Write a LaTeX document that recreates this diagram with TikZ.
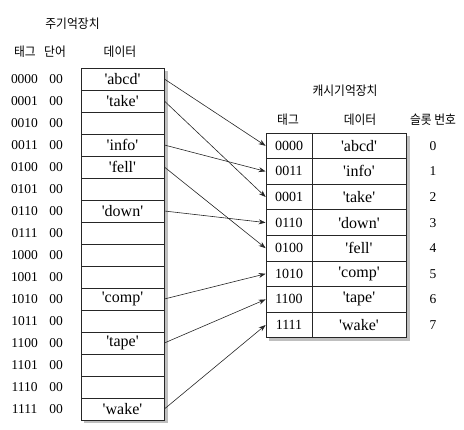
\documentclass[tikz,border=0pt]{standalone}
\usepackage{fontspec}
\setmainfont{Liberation Serif}
\newfontfamily\kor{Noto Sans CJK KR}[FakeStretch=0.92]
\usetikzlibrary{arrows.meta}
\newcommand{\q}[1]{\textquotesingle#1\textquotesingle}
\begin{document}
\begin{tikzpicture}[x=1pt,y=-1pt,
  mcell/.style={draw=black!85,fill=white,line width=0.7pt,minimum width=83pt,minimum height=22pt,inner sep=0pt,font=\fontsize{16}{16}\selectfont},
  ctag/.style={draw=black!85,fill=white,line width=0.7pt,minimum width=46pt,minimum height=25.6pt,inner sep=0pt,font=\fontsize{14}{14}\selectfont},
  cdat/.style={draw=black!85,fill=white,line width=0.7pt,minimum width=94pt,minimum height=25.6pt,inner sep=0pt,font=\fontsize{16}{16}\selectfont},
  lbl/.style={inner sep=0pt,font=\fontsize{13.5}{13.5}\selectfont},
  hdr/.style={inner sep=0pt,font=\kor\fontsize{12.8}{12.8}\selectfont},
  arr/.style={draw=black!85,line width=0.6pt,-{Stealth[length=7pt,width=5pt]}},
  shadow/.style={fill=black!25}]
\useasboundingbox (0,0) rectangle (464,430);
% headers main
\node[hdr] (hmain) at (72.5,24) {주기억장치};
\node[hdr] (ht) at (25,52) {태그};
\node[hdr] (hw) at (55,52) {단어};
\node[hdr] (hdata) at (120,52) {데이터};
% shadow main
\fill[shadow] (84,71) rectangle (167.5,423);
% main memory rows
\foreach \i/\t/\d in {0/0000/\q{abcd},1/0001/\q{take},2/0010/,3/0011/\q{info},4/0100/\q{fell},5/0101/,6/0110/\q{down},7/0111/,8/1000/,9/1001/,10/1010/\q{comp},11/1011/,12/1100/\q{tape},13/1101/,14/1110/,15/1111/\q{wake}}{
  \node[mcell] (m\i) at (122.5,{79+22*\i}) {\d};
  \node[lbl] (mt\i) at (24.5,{79+22*\i}) {\t};
  \node[lbl] (mw\i) at (56,{79+22*\i}) {00};
}
% headers cache
\node[hdr] (hcache) at (345,91) {캐시기억장치};
\node[hdr] (hct) at (288,120) {태그};
\node[hdr] (hcd) at (360,120) {데이터};
\node[hdr] (hcs) at (433,120) {슬롯 번호};
% shadow cache
\fill[shadow] (269,136) rectangle (409.5,341);
\foreach \i/\t/\d in {0/0000/\q{abcd},1/0011/\q{info},2/0001/\q{take},3/0110/\q{down},4/0100/\q{fell},5/1010/\q{comp},6/1100/\q{tape},7/1111/\q{wake}}{
  \node[ctag] (c\i) at (289,{145.8+25.6*\i}) {\t};
  \node[cdat] (d\i) at (359,{145.8+25.6*\i}) {\d};
  \node[lbl] (s\i) at (433,{145.8+25.6*\i}) {\i};
}
% arrows
\draw[arr] (m0.east) -- (c0.west);
\draw[arr] (m1.east) -- (c2.west);
\draw[arr] (m3.east) -- (c1.west);
\draw[arr] (m4.east) -- (c4.west);
\draw[arr] (m6.east) -- (c3.west);
\draw[arr] (m10.east) -- (c5.west);
\draw[arr] (m12.east) -- (c6.west);
\draw[arr] (m15.east) -- (c7.west);
\end{tikzpicture}
\end{document}
